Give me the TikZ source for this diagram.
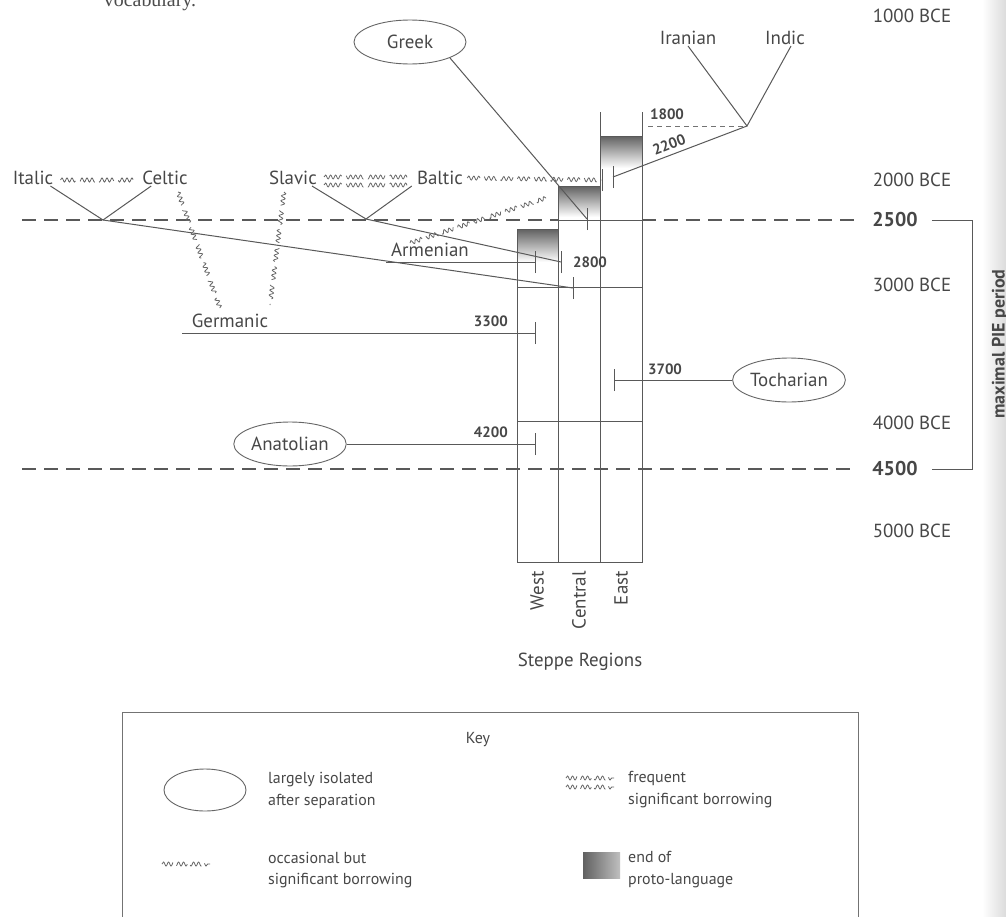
\documentclass[tikz,border=0pt]{standalone}
\usepackage{fontspec}
\setmainfont{PT Sans}
\setsansfont{PT Sans}
\newfontfamily\bookfont{Liberation Serif}
\usetikzlibrary{shapes.geometric, decorations.pathmorphing, positioning}

\tikzset{
  lang/.style={text=black!72, font=\fontsize{19}{22}\selectfont, inner sep=1bp},
  isolated/.style={lang, draw=black!60, line width=0.9bp, ellipse, minimum width=112bp, minimum height=44bp},
  datenum/.style={text=black!72, font=\bfseries\fontsize{15}{17}\selectfont, inner sep=0},
  bignum/.style={text=black!72, font=\bfseries\fontsize{20}{24}\selectfont, inner sep=0},
  era/.style={text=black!72, font=\fontsize{19}{22}\selectfont, inner sep=0},
  keytext/.style={text=black!72, font=\fontsize{16}{22}\selectfont, align=left, anchor=west, inner sep=0},
  branch/.style={draw=black!65, line width=1bp},
  period/.style={draw=black!65, line width=1.4bp, dash pattern=on 14bp off 8bp},
  borrow/.style={draw=black!60, line width=0.8bp, decorate, decoration={snake, segment length=5bp, amplitude=2bp}},
  region/.style={draw=black!65, line width=1bp},
  protoend/.style={top color=black!62, bottom color=white, draw=none},
}
\newcommand\tickat[1]{\draw[branch] ([yshift=-11bp]#1) -- ([yshift=11bp]#1);}

\begin{document}
\begin{tikzpicture}[x=1bp,y=-1bp]
\clip (0,0) rectangle (1006,917);
\fill[white] (0,0) rectangle (1006,917);
\shade[left color=white, right color=black!14] (982,0) rectangle (1006,917);
\node[font=\bookfont\fontsize{20}{24}\selectfont, text=black!70, anchor=base] (booktext) at (150,6) {vocabulary.};

% steppe columns
\shade[protoend] (517,229) rectangle (558,262);
\shade[protoend] (558,186) rectangle (600,217);
\shade[protoend] (600,136) rectangle (642,168);
\draw[region] (517,229) -- (517,562) -- (642,562) -- (642,112);
\draw[region] (558,186) -- (558,562);
\draw[region] (600,112) -- (600,562);
\draw[region] (517,229) -- (558,229);
\draw[region] (558,186) -- (600,186);
\draw[region] (600,136) -- (642,136);
\draw[region] (558,220) -- (642,220);
\draw[region] (517,287) -- (642,287);
\draw[region] (517,421) -- (642,421);
\node[lang, rotate=90, anchor=east] (west) at (537,570) {West};
\node[lang, rotate=90, anchor=east] (central) at (579,570) {Central};
\node[lang, rotate=90, anchor=east] (east) at (621,570) {East};
\node[lang] (steppe) at (580,662) {Steppe Regions};

% time scale
\node[era] (e1000) at (912,16) {1000 BCE};
\node[era] (e2000) at (912,180) {2000 BCE};
\node[era] (e3000) at (912,285) {3000 BCE};
\node[era] (e4000) at (912,423) {4000 BCE};
\node[era] (e5000) at (912,531) {5000 BCE};
\node[bignum] (n2500) at (895,220) {2500};
\node[bignum] (n4500) at (895,469) {4500};
\draw[period] (22,220) -- (558,220);
\draw[period] (642,220) -- (856,220);
\draw[period] (22,469) -- (856,469);
\coordinate (brTop) at (972,220);
\coordinate (brBot) at (972,469);
\draw[branch] ([xshift=14bp]n2500.east) -- (brTop) -- (brBot) -- ([xshift=14bp]n4500.east);
\node[rotate=90, text=black!72, font=\bfseries\fontsize{18}{20}\selectfont] (pie) at (1000,344) {maximal PIE period};

% languages
\node[lang] (italic) at (33,178) {Italic};
\node[lang] (celtic) at (165,178) {Celtic};
\node[lang] (slavic) at (293,178) {Slavic};
\node[lang] (baltic) at (440,178) {Baltic};
\node[isolated] (greek) at (410,42) {Greek};
\node[lang] (iranian) at (688,38) {Iranian};
\node[lang] (indic) at (785,38) {Indic};
\node[lang] (armenian) at (430,250) {Armenian};
\node[lang] (germanic) at (230,321) {Germanic};
\node[isolated] (tocharian) at (789,380) {Tocharian};
\node[isolated] (anatolian) at (290,444) {Anatolian};

\coordinate (itce) at (103,220);
\coordinate (slba) at (366,219);
\coordinate (inir) at (747,126);
\coordinate (itceEnd) at (573,288);
\coordinate (slbaEnd) at (561,262);
\coordinate (armStart) at (386,262);
\coordinate (armEnd) at (535,262);
\coordinate (gerStart) at (182,333);
\coordinate (gerEnd) at (535,333);
\coordinate (anaEnd) at (535,444);
\coordinate (tocEnd) at (614,380);
\coordinate (inirEnd) at (613,177);
\coordinate (grkEnd) at (587,219);
\coordinate (line1800) at (648,126);
\coordinate (balEnd) at (602,180);

% splits
\draw[branch] ([xshift=-4bp]italic.south east) -- (itce) -- ([xshift=10bp]celtic.south west);
\draw[branch] (itce) -- (itceEnd);
\draw[branch] ([xshift=-6bp]slavic.south east) -- (slba) -- ([xshift=-4bp]baltic.south west);
\draw[branch] (slba) -- (slbaEnd);
\draw[branch] (iranian.south) -- (inir) -- ([xshift=6bp]indic.south);
\draw[branch] (inir) -- (inirEnd);
\draw[draw=black!55, line width=0.8bp, dash pattern=on 5bp off 4bp] (line1800) -- (inir);
\draw[branch] (greek.south east) -- (grkEnd);
\draw[branch] (armStart) -- (armEnd);
\draw[branch] (gerStart) -- (gerEnd);
\draw[branch] (anatolian.east) -- (anaEnd);
\draw[branch] (tocharian.west) -- (tocEnd);
\tickat{itceEnd}
\tickat{slbaEnd}
\tickat{armEnd}
\tickat{gerEnd}
\tickat{anaEnd}
\tickat{tocEnd}
\tickat{inirEnd}
\tickat{grkEnd}
\tickat{balEnd}

% dates
\node[datenum, anchor=east] (d3300) at (508,321) {3300};
\node[datenum, anchor=east] (d4200) at (508,432) {4200};
\node[datenum] (d2800) at (590,262) {2800};
\node[datenum] (d3700) at (665,369) {3700};
\node[datenum] (d1800) at (667,114) {1800};
\node[datenum, rotate=21] (d2200) at (669,145) {2200};

% borrowing
\draw[borrow, dash pattern=on 28bp off 9bp] ([xshift=6bp,yshift=-2bp]italic.east) -- ([xshift=-4bp,yshift=-2bp]celtic.west);
\draw[borrow, dash pattern=on 33bp off 9bp] ([xshift=6bp,yshift=1bp]slavic.east) -- ([xshift=-5bp,yshift=1bp]baltic.west);
\draw[borrow, dash pattern=on 33bp off 9bp] ([xshift=6bp,yshift=-7bp]slavic.east) -- ([xshift=-5bp,yshift=-7bp]baltic.west);
\draw[borrow, dash pattern=on 24bp off 8bp] ([xshift=3bp]baltic.east) -- (balEnd);
\draw[borrow, dash pattern=on 26bp off 10bp] (178,192) -- (220,308);
\draw[borrow, dash pattern=on 26bp off 10bp] (284,192) -- (270,305);
\draw[borrow, dash pattern=on 24bp off 8bp] (410,243) -- (546,198);

% key
\draw[draw=black!55, line width=0.9bp] (122,712) rectangle (858,940);
\node[keytext, anchor=center] (keytitle) at (478,740) {Key};
\node[isolated, minimum width=82bp, minimum height=42bp] (keyell) at (205,790) {};
\node[keytext] (keyiso) at (268,790) {largely isolated\\after separation};
\draw[borrow, dash pattern=on 21bp off 6bp] (566,778) -- (614,778);
\draw[borrow, dash pattern=on 21bp off 6bp] (566,787) -- (614,787);
\node[keytext] (keyfreq) at (628,790) {frequent\\significant borrowing};
\draw[borrow, dash pattern=on 21bp off 6bp] (162,864) -- (210,864);
\node[keytext] (keyocc) at (268,870) {occasional but\\significant borrowing};
\shade[left color=black!62, right color=black!25] (583,852) rectangle (620,878);
\node[keytext] (keyend) at (628,870) {end of\\proto-language};
\end{tikzpicture}
\end{document}
